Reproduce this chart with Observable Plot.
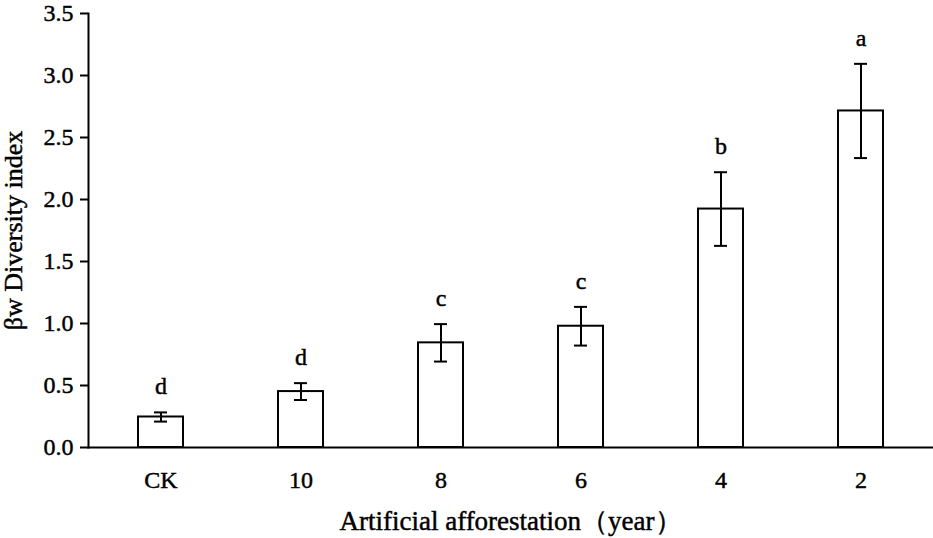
<!DOCTYPE html>
<html>
<head>
<meta charset="utf-8">
<script src="https://cdn.jsdelivr.net/npm/d3@7"></script>
<script src="https://cdn.jsdelivr.net/npm/@observablehq/plot@0.6"></script>
<style>
  html, body { margin: 0; padding: 0; background: #fff; }
  #chart svg { display: block; }
  #chart svg text { stroke: #000; stroke-width: 0.45px; }
</style>
</head>
<body>
<div id="chart"></div>
<script>
const groups = ["CK", "10", "8", "6", "4", "2"];
const means = [0.246, 0.451, 0.844, 0.978, 1.923, 2.714];
const errors = [0.037, 0.068, 0.151, 0.156, 0.297, 0.380];
const letters = ["d", "d", "c", "c", "b", "a"];
const yTicks = [0, 0.5, 1.0, 1.5, 2.0, 2.5, 3.0, 3.5];

const data = groups.map((g, i) => ({
  group: g,
  mean: means[i],
  lo: means[i] - errors[i],
  hi: means[i] + errors[i],
  letter: letters[i]
}));

const font = "'Liberation Serif', 'Times New Roman', serif";

const chart = Plot.plot({
  width: 933,
  height: 538,
  marginLeft: 88,
  marginRight: 1,
  marginTop: 13,
  marginBottom: 91,
  style: { fontFamily: font, fontSize: "24px", color: "#000", background: "#fff" },
  x: { domain: groups, paddingInner: 0.68, paddingOuter: 0.34 },
  y: { domain: [0, 3.5] },
  marks: [
    Plot.barY(data, { x: "group", y: "mean", fill: "white", stroke: "black", strokeWidth: 2 }),
    Plot.ruleX(data, { x: "group", y1: "lo", y2: "hi", stroke: "black", strokeWidth: 2 }),
    Plot.tickY(data, { x: "group", y: "lo", stroke: "black", strokeWidth: 2, insetLeft: 16, insetRight: 16 }),
    Plot.tickY(data, { x: "group", y: "hi", stroke: "black", strokeWidth: 2, insetLeft: 16, insetRight: 16 }),
    Plot.text(data, { x: "group", y: "hi", text: "letter", dy: -18, lineAnchor: "bottom", fontSize: 24, fill: "black" }),
    Plot.axisY({
      ticks: yTicks,
      tickFormat: d3.format(".1f"),
      tickSize: 8,
      tickPadding: 7,
      strokeWidth: 2,
      fontSize: 24,
      label: "βw Diversity index",
      labelAnchor: "center",
      labelOffset: 85,
      labelArrow: "none"
    }),
    Plot.axisX({
      tickSize: 0,
      tickPadding: 23,
      fontSize: 24,
      label: "Artificial afforestation（year）",
      labelAnchor: "center",
      labelOffset: 82,
      labelArrow: "none"
    }),
    Plot.frame({ anchor: "left", stroke: "black", strokeWidth: 2 }),
    Plot.frame({ anchor: "bottom", stroke: "black", strokeWidth: 2 })
  ]
});

// enlarge axis titles
chart.querySelectorAll("g[aria-label='y-axis label'] text").forEach(t => {
  t.setAttribute("font-size", "26");
});
chart.querySelectorAll("g[aria-label='x-axis label'] text").forEach(t => {
  t.setAttribute("font-size", "27");
});

document.getElementById("chart").appendChild(chart);
</script>
</body>
</html>
